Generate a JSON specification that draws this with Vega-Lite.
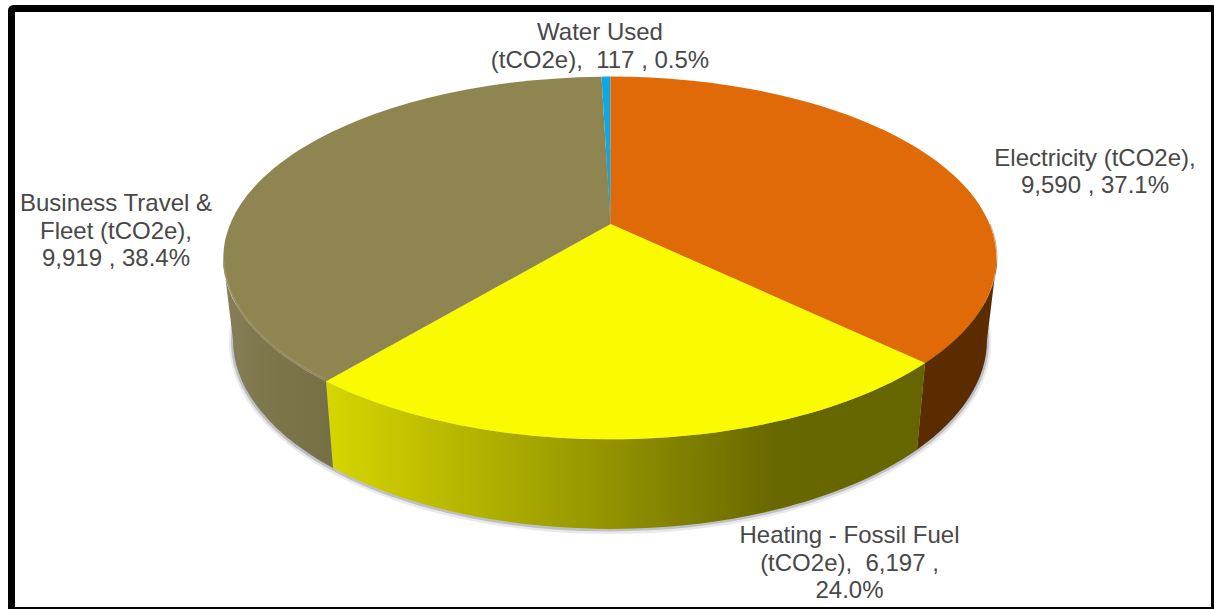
{
  "$schema": "https://vega.github.io/schema/vega-lite/v6.json",
  "width": 1203,
  "height": 602,
  "autosize": "none",
  "padding": {"left": 11.5, "top": 8.5, "right": 0, "bottom": 0},
  "background": "white",
  "view": {"stroke": "#000000", "strokeWidth": 7, "cornerRadius": 2, "fill": "white"},
  "config": {"axis": {"disable": true}},
  "data": {
    "values": [
      {"source": "Water Used", "tCO2e": 117, "share": 0.5, "label": "Water Used\n(tCO2e),\u00a0 117 , 0.5%"},
      {"source": "Electricity", "tCO2e": 9590, "share": 37.1, "label": "Electricity (tCO2e),\n9,590 , 37.1%"},
      {"source": "Heating - Fossil Fuel", "tCO2e": 6197, "share": 24.0, "label": "Heating - Fossil Fuel\n(tCO2e),\u00a0 6,197 ,\n24.0%"},
      {"source": "Business Travel & Fleet", "tCO2e": 9919, "share": 38.4, "label": "Business Travel &\nFleet (tCO2e),\n9,919 , 38.4%"}
    ]
  },
  "encoding": {
    "x": {"datum": 0, "type": "quantitative", "scale": {"domain": [-598.5, 604.5], "zero": false, "nice": false}},
    "y": {"datum": 0, "type": "quantitative", "scale": {"domain": [-352.5, 249.5], "zero": false, "nice": false}},
    "tooltip": [{"field": "source"}, {"field": "tCO2e"}, {"field": "share"}]
  },
  "layer": [
    {
      "description": "soft drop shadow under the disc, outer band",
      "transform": [{"filter": "datum.source === 'Electricity'"}],
      "mark": {"type": "point", "filled": true, "opacity": 0.25, "size": 4, "fill": "#a8a8b4",
        "shape": "M-381,84 A381,192 0 1 0 381,84 A381,192 0 1 0 -381,84 Z"}
    },
    {
      "description": "soft drop shadow under the disc, inner band",
      "transform": [{"filter": "datum.source === 'Electricity'"}],
      "mark": {"type": "point", "filled": true, "opacity": 0.55, "size": 4, "fill": "#9c9ca8",
        "shape": "M-379,83 A379,190.5 0 1 0 379,83 A379,190.5 0 1 0 -379,83 Z"}
    },
    {
      "description": "side wall of the electricity slice",
      "transform": [{"filter": "datum.source === 'Electricity'"}],
      "mark": {"type": "point", "filled": true, "opacity": 1, "size": 4, "fill": "#5b2c00",
        "shape": "M387,0 A387,181.5 0 0 1 315,105 L307,191.7 A377,189 0 0 0 377,82 Z"}
    },
    {
      "description": "side wall of the heating slice, lit from the left",
      "transform": [{"filter": "datum.source === 'Heating - Fossil Fuel'"}],
      "mark": {"type": "point", "filled": true, "opacity": 1, "size": 4,
        "fill": {"gradient": "linear", "x1": 0, "y1": 0, "x2": 1, "y2": 0, "stops": [
          {"offset": 0, "color": "#d6d600"},
          {"offset": 0.45, "color": "#969600"},
          {"offset": 0.62, "color": "#7c7c00"},
          {"offset": 0.75, "color": "#686800"},
          {"offset": 1, "color": "#666600"}
        ]},
        "shape": "M315,105 L307,191.7 A377,189 0 0 1 -277,210 L-284,123.3 A387,181.5 0 0 0 315,105 Z"}
    },
    {
      "description": "side wall of the travel slice",
      "transform": [{"filter": "datum.source === 'Business Travel & Fleet'"}],
      "mark": {"type": "point", "filled": true, "opacity": 1, "size": 4,
        "fill": {"gradient": "linear", "x1": 0, "y1": 0, "x2": 1, "y2": 0, "stops": [
          {"offset": 0, "color": "#857e58"},
          {"offset": 0.5, "color": "#7c7549"},
          {"offset": 1, "color": "#757044"}
        ]},
        "shape": "M-387,0 A387,181.5 0 0 0 -284,123.3 L-277,210 A377,189 0 0 1 -377,82 Z"}
    },
    {
      "description": "top face of the pie, one wedge per source",
      "mark": {"type": "point", "filled": true, "opacity": 1, "size": 4},
      "encoding": {
        "shape": {
          "field": "source",
          "type": "nominal",
          "legend": null,
          "scale": {
            "domain": ["Water Used", "Electricity", "Heating - Fossil Fuel", "Business Travel & Fleet"],
            "range": [
              "M0.5,-34 L-8.5,-181.3 A387,181.5 0 0 1 0.5,-181.5 Z",
              "M0.5,-34 L0.5,-181.5 A387,181.5 0 0 1 315,105 Z",
              "M0.5,-34 L315,105 A387,181.5 0 0 1 -284,123.3 Z",
              "M0.5,-34 L-284,123.3 A387,181.5 0 0 1 -8.5,-181.3 Z"
            ]
          }
        },
        "color": {
          "field": "source",
          "type": "nominal",
          "legend": null,
          "scale": {
            "domain": ["Water Used", "Electricity", "Heating - Fossil Fuel", "Business Travel & Fleet"],
            "range": ["#0ea8e4", "#e06a08", "#fafa00", "#8f8550"]
          }
        }
      }
    },
    {
      "description": "pale bevel along the travel slice rim",
      "transform": [{"filter": "datum.source === 'Business Travel & Fleet'"}],
      "mark": {"type": "point", "filled": false, "opacity": 0.6, "size": 4, "stroke": "#a39a70", "strokeWidth": 1.5,
        "shape": "M-386,4 A387,181.5 0 0 0 -285,121"}
    },
    {
      "description": "dark bevel along the electricity slice rim",
      "transform": [{"filter": "datum.source === 'Electricity'"}],
      "mark": {"type": "point", "filled": false, "opacity": 0.5, "size": 4, "stroke": "#a85008", "strokeWidth": 1,
        "shape": "M380,-34 A387,181.5 0 0 1 387,0 A387,181.5 0 0 1 315,105"}
    },
    {
      "description": "data label: water",
      "transform": [{"filter": "datum.source === 'Water Used'"}],
      "mark": {"type": "text", "font": "Liberation Sans", "fontSize": 24, "color": "#484848", "lineBreak": "\n", "lineHeight": 27.7, "align": "center", "baseline": "middle"},
      "encoding": {
        "x": {"datum": -10, "type": "quantitative"},
        "y": {"datum": 225, "type": "quantitative"},
        "text": {"field": "label"}
      }
    },
    {
      "description": "data label: electricity",
      "transform": [{"filter": "datum.source === 'Electricity'"}],
      "mark": {"type": "text", "font": "Liberation Sans", "fontSize": 24, "color": "#484848", "lineBreak": "\n", "lineHeight": 27.7, "align": "center", "baseline": "middle"},
      "encoding": {
        "x": {"datum": 485, "type": "quantitative"},
        "y": {"datum": 99.5, "type": "quantitative"},
        "text": {"field": "label"}
      }
    },
    {
      "description": "data label: heating",
      "transform": [{"filter": "datum.source === 'Heating - Fossil Fuel'"}],
      "mark": {"type": "text", "font": "Liberation Sans", "fontSize": 24, "color": "#484848", "lineBreak": "\n", "lineHeight": 27.7, "align": "center", "baseline": "middle"},
      "encoding": {
        "x": {"datum": 239.5, "type": "quantitative"},
        "y": {"datum": -278, "type": "quantitative"},
        "text": {"field": "label"}
      }
    },
    {
      "description": "data label: travel",
      "transform": [{"filter": "datum.source === 'Business Travel & Fleet'"}],
      "mark": {"type": "text", "font": "Liberation Sans", "fontSize": 24, "color": "#484848", "lineBreak": "\n", "lineHeight": 27.7, "align": "center", "baseline": "middle"},
      "encoding": {
        "x": {"datum": -494, "type": "quantitative"},
        "y": {"datum": 54, "type": "quantitative"},
        "text": {"field": "label"}
      }
    }
  ]
}
